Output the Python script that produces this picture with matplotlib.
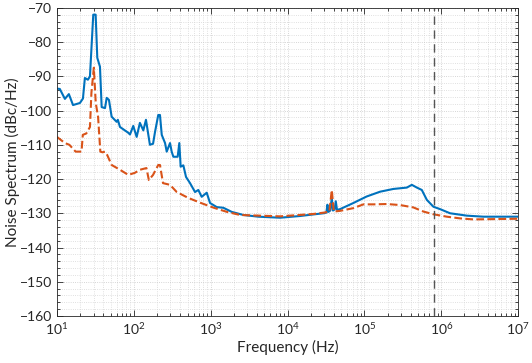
import numpy as np
import matplotlib.pyplot as plt
from matplotlib.ticker import LogLocator, MultipleLocator, NullFormatter, FixedLocator

plt.rcParams['font.family'] = ['Lato', 'DejaVu Sans']

# blue solid trace (Hz, dBc/Hz)
freq_a = [10, 10.9, 12.7, 14.3, 16.2, 19.9, 21.8, 23.1, 25.3, 26.9, 29.7, 31.9,
          33.5, 36.3, 38.2, 42.2, 44.4, 47.5, 51.5, 59.8, 62, 66.1, 84.8, 89.2,
          98.4, 109, 120, 133, 144, 162, 178, 189, 208, 219, 231, 255, 268,
          296, 311, 327, 372, 391, 407, 441, 478, 539, 626, 691, 764, 888,
          981, 1200, 1463, 1880, 2663, 4170, 7990, 14560, 29250, 32000, 33000,
          34000, 36000, 37600, 39000, 41000, 42400, 44000, 48200, 71900,
          107000, 160000, 238000, 356000, 414000, 481000, 558000, 649000,
          791000, 966000, 1.3e6, 2.15e6, 3.54e6, 1e7]
noise_a = [-93.6, -93.7, -96.6, -95.2, -98.4, -97.8, -96.5, -90.5, -91, -90,
           -72, -72, -84.6, -87.2, -99, -99.3, -96.3, -96.9, -101.8, -103.3,
           -102.7, -104.8, -106.5, -107, -104.5, -107.7, -103.6, -105.8, -102.7,
           -110, -109.7, -106.2, -101.3, -101.3, -107.1, -109.5, -112, -109.5,
           -112, -113.5, -113.5, -109.5, -116.4, -116, -119.4, -121.2, -123.8,
           -123.2, -125.2, -124, -127, -128.2, -128.4, -129.6, -130.5, -131,
           -131.3, -130.8, -130, -129.8, -127.5, -129.6, -129.2, -125.5,
           -129.2, -128.9, -126.5, -129, -128.8, -127, -125.1, -123.7, -122.9,
           -122.5, -121.7, -122.5, -123.2, -126.1, -128.1, -128.8, -130,
           -130.7, -131, -131]

# orange dashed trace
freq_b = [10, 12.7, 14.5, 17.5, 20.9, 21.7, 24.1, 26.9, 28.1, 30.2, 32,
          34.3, 36.7, 39.3, 42.2, 45.1, 51.5, 66.1, 84.8, 103, 120, 146,
          157, 178, 208, 219, 240, 296, 362, 509, 748, 1100, 1630, 2410,
          7990, 21700, 30000, 35000, 37600, 40000, 48200, 71900, 97000,
          131000, 195000, 291000, 434000, 586000, 791000, 1.18e6, 1.76e6,
          2.62e6, 1e7]
noise_b = [-107.7, -109.5, -110, -112, -112, -107.1, -106.7, -104.8, -94.8,
           -87.5, -97.8, -101.8, -112, -112.2, -112, -113, -115.9, -117.3,
           -118.8, -118.2, -117.3, -116.8, -120.3, -118.8, -115.9, -115.9,
           -121.2, -121.7, -123.8, -125.5, -127, -128.4, -129.6, -130.5,
           -130.9, -130.2, -129.8, -129.5, -123.2, -129.5, -129.3, -128.5,
           -127.4, -127.4, -127.3, -127.6, -128.3, -129.5, -130.3, -131,
           -131.5, -131.8, -131.6]

decades = [1e1, 1e2, 1e3, 1e4, 1e5, 1e6, 1e7]
cutoff = 8e5

fig = plt.figure(figsize=(5.32, 3.63), dpi=100)
ax = fig.add_axes([0.107, 0.1295, 0.867, 0.849])

ax.semilogx(freq_a, noise_a, color='#0072BD', lw=1.5)
ax.semilogx(freq_b, noise_b, color='#D95319', lw=1.5, ls='--')
ax.axvline(cutoff, color='#555555', lw=1, ls=(0, (6, 4)))

ax.set_xlim(10, 1e7)
ax.set_ylim(-160, -70)
ax.yaxis.set_major_locator(MultipleLocator(10))
ax.yaxis.set_minor_locator(MultipleLocator(2))
ax.xaxis.set_major_locator(FixedLocator(decades))
ax.xaxis.set_minor_locator(LogLocator(base=10, subs=np.arange(2, 10), numticks=20))
ax.xaxis.set_minor_formatter(NullFormatter())

ax.grid(True, which='major', color='#c8c8c8', ls=':', lw=0.6)
ax.grid(True, which='minor', color='#d6d6d6', ls=':', lw=0.6)
ax.set_axisbelow(True)

ax.tick_params(which='both', direction='in', top=True, right=True,
               labelsize=10, colors='#262626', width=0.6)
ax.tick_params(which='major', length=4)
ax.tick_params(which='minor', length=2)
for s in ax.spines.values():
    s.set_color('#262626')
    s.set_linewidth(0.6)

ax.set_xlabel('Frequency (Hz)', fontsize=11, color='#262626', labelpad=2)
ax.set_ylabel('Noise Spectrum (dBc/Hz)', fontsize=11, color='#262626')
ax.yaxis.set_label_coords(-0.081, 0.5)

fig.savefig('out.png', dpi=100)
